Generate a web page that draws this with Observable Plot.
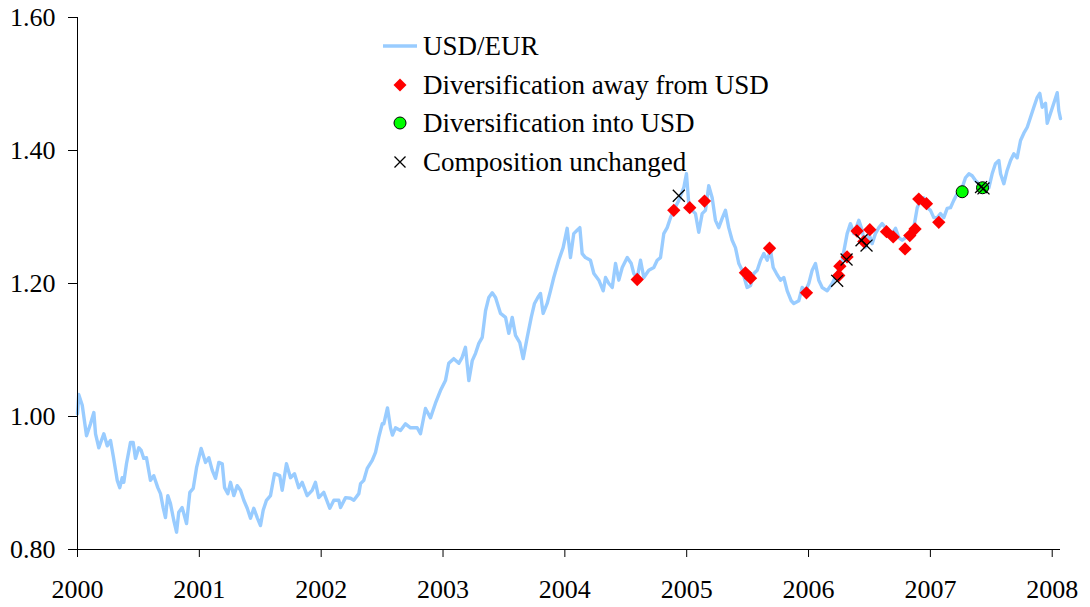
<!DOCTYPE html>
<html>
<head>
<meta charset="utf-8">
<script src="https://cdn.jsdelivr.net/npm/d3@7"></script>
<script src="https://cdn.jsdelivr.net/npm/@observablehq/plot@0.6"></script>
<style>
  html, body { margin: 0; padding: 0; background: #fff; }
  #wrap { position: relative; width: 1090px; height: 607px; font-family: "Liberation Serif", "Times New Roman", serif; }
  #legend { position: absolute; left: 380px; top: 27px; font-size: 27px; color: #000; line-height: 38.5px; }
  #legend .row { display: flex; align-items: center; height: 38.5px; }
  #legend svg { width: 40px; height: 20px; margin-right: 3px; overflow: visible; }
</style>
</head>
<body>
<div id="wrap"></div>
<script>
// ---- Data ----
const years = [
  2000.000,2000.010,2000.039,2000.074,2000.107,2000.134,2000.148,2000.175,2000.216,2000.244,
  2000.271,2000.293,2000.326,2000.347,2000.367,2000.380,2000.402,2000.435,2000.457,2000.476,
  2000.503,2000.523,2000.544,2000.566,2000.599,2000.626,2000.659,2000.681,2000.703,2000.722,
  2000.741,2000.763,2000.790,2000.813,2000.831,2000.859,2000.895,2000.922,2000.950,2000.977,
  2001.015,2001.051,2001.078,2001.106,2001.133,2001.160,2001.188,2001.207,2001.234,2001.256,
  2001.283,2001.311,2001.338,2001.365,2001.393,2001.420,2001.447,2001.475,2001.502,2001.524,
  2001.551,2001.584,2001.617,2001.660,2001.680,2001.715,2001.748,2001.781,2001.816,2001.844,
  2001.885,2001.926,2001.953,2001.980,2002.021,2002.071,2002.104,2002.145,2002.159,2002.200,
  2002.241,2002.268,2002.309,2002.323,2002.350,2002.378,2002.419,2002.446,2002.473,2002.501,
  2002.514,2002.544,2002.569,2002.585,2002.610,2002.651,2002.692,2002.733,2002.788,2002.815,
  2002.856,2002.897,2002.938,2002.979,2003.020,2003.047,2003.088,2003.130,2003.157,2003.184,
  2003.212,2003.240,2003.267,2003.294,2003.322,2003.349,2003.376,2003.404,2003.431,2003.472,
  2003.513,2003.540,2003.568,2003.595,2003.630,2003.658,2003.691,2003.724,2003.751,2003.778,
  2003.800,2003.822,2003.855,2003.882,2003.909,2003.950,2003.986,2004.019,2004.046,2004.073,
  2004.101,2004.123,2004.142,2004.169,2004.210,2004.238,2004.279,2004.315,2004.334,2004.361,
  2004.389,2004.416,2004.443,2004.471,2004.512,2004.545,2004.566,2004.594,2004.621,2004.648,
  2004.689,2004.730,2004.758,2004.785,2004.812,2004.840,2004.867,2004.894,2004.935,2004.976,
  2004.998,2005.017,2005.045,2005.072,2005.099,2005.127,2005.154,2005.181,2005.209,2005.236,
  2005.263,2005.291,2005.318,2005.345,2005.373,2005.400,2005.428,2005.455,2005.496,2005.524,
  2005.551,2005.579,2005.606,2005.633,2005.661,2005.688,2005.710,2005.737,2005.770,2005.797,
  2005.825,2005.858,2005.879,2005.920,2005.948,2005.975,2006.002,2006.030,2006.057,2006.084,
  2006.112,2006.153,2006.194,2006.235,2006.276,2006.317,2006.344,2006.372,2006.413,2006.440,
  2006.467,2006.495,2006.522,2006.549,2006.577,2006.604,2006.631,2006.659,2006.686,2006.714,
  2006.741,2006.769,2006.796,2006.837,2006.864,2006.892,2006.919,2006.946,2006.974,2007.001,
  2007.028,2007.056,2007.083,2007.110,2007.138,2007.165,2007.192,2007.220,2007.261,2007.288,
  2007.316,2007.343,2007.370,2007.398,2007.425,2007.452,2007.480,2007.507,2007.534,2007.562,
  2007.576,2007.603,2007.630,2007.658,2007.685,2007.712,2007.740,2007.767,2007.795,2007.822,
  2007.849,2007.877,2007.898,2007.918,2007.945,2007.959,2007.986,2008.013,2008.041,2008.054,
  2008.068
];
const usdEur = [
  1.004,1.033,1.017,0.971,0.989,1.006,0.974,0.953,0.974,0.956,
  0.964,0.941,0.904,0.893,0.908,0.901,0.929,0.961,0.961,0.937,
  0.953,0.949,0.937,0.938,0.904,0.911,0.893,0.884,0.863,0.848,
  0.881,0.869,0.844,0.826,0.856,0.863,0.839,0.886,0.892,0.923,
  0.952,0.931,0.938,0.919,0.907,0.931,0.929,0.893,0.884,0.901,
  0.881,0.896,0.889,0.874,0.862,0.847,0.862,0.848,0.836,0.859,
  0.874,0.881,0.914,0.911,0.889,0.929,0.908,0.914,0.893,0.901,
  0.881,0.889,0.901,0.878,0.886,0.862,0.874,0.874,0.863,0.878,
  0.877,0.874,0.884,0.899,0.904,0.922,0.934,0.946,0.969,0.989,
  0.989,1.013,0.983,0.972,0.983,0.979,0.989,0.983,0.983,0.974,
  1.012,0.998,1.020,1.039,1.054,1.080,1.087,1.080,1.089,1.104,
  1.054,1.084,1.095,1.110,1.119,1.159,1.179,1.186,1.179,1.155,
  1.149,1.125,1.149,1.122,1.111,1.087,1.119,1.149,1.170,1.179,
  1.185,1.155,1.170,1.189,1.209,1.235,1.254,1.283,1.239,1.275,
  1.280,1.284,1.245,1.239,1.235,1.215,1.205,1.189,1.209,1.200,
  1.194,1.230,1.205,1.224,1.239,1.230,1.215,1.209,1.235,1.209,
  1.220,1.224,1.235,1.239,1.275,1.284,1.299,1.310,1.325,1.344,
  1.365,1.320,1.310,1.305,1.277,1.305,1.310,1.347,1.329,1.295,
  1.284,1.298,1.310,1.284,1.265,1.254,1.230,1.220,1.194,1.197,
  1.215,1.220,1.235,1.245,1.235,1.250,1.224,1.215,1.205,1.209,
  1.189,1.174,1.170,1.174,1.194,1.189,1.200,1.220,1.230,1.205,
  1.194,1.189,1.200,1.215,1.235,1.275,1.290,1.275,1.295,1.280,
  1.254,1.275,1.260,1.275,1.284,1.290,1.284,1.280,1.275,1.283,
  1.269,1.265,1.269,1.272,1.284,1.314,1.325,1.329,1.314,1.310,
  1.299,1.299,1.305,1.299,1.313,1.314,1.325,1.335,1.344,1.359,
  1.365,1.362,1.355,1.350,1.340,1.340,1.344,1.365,1.380,1.385,
  1.365,1.350,1.370,1.385,1.395,1.389,1.415,1.426,1.435,1.450,
  1.465,1.480,1.486,1.465,1.471,1.441,1.456,1.471,1.487,1.460,
  1.448
];
const awayYears  = [2004.594,2004.894,2005.025,2005.146,2005.482,2005.524,2005.680,2005.983,2006.248,2006.257,2006.316,2006.398,2006.454,2006.503,2006.640,2006.695,2006.792,2006.831,2006.874,2006.905,2006.968,2007.069];
const awayValues = [1.206,1.310,1.314,1.324,1.216,1.208,1.253,1.186,1.212,1.226,1.240,1.279,1.263,1.281,1.278,1.270,1.252,1.272,1.282,1.327,1.320,1.292];
const intoYears  = [2007.261,2007.428];
const intoValues = [1.338,1.344];
const unchYears  = [2004.935,2006.235,2006.312,2006.435,2006.476,2007.416,2007.436];
const unchValues = [1.332,1.204,1.236,1.265,1.257,1.345,1.343];
const yearTicks = [2000,2001,2002,2003,2004,2005,2006,2007,2008];
const rateTicks = [0.8,1.0,1.2,1.4,1.6];
const seriesLabels = ["USD/EUR","Diversification away from USD","Diversification into USD","Composition unchanged"];

// ---- Tables ----
const line = years.map((t, i) => ({t, v: usdEur[i]}));
const away = awayYears.map((t, i) => ({t, v: awayValues[i]}));
const into = intoYears.map((t, i) => ({t, v: intoValues[i]}));
const unch = unchYears.map((t, i) => ({t, v: unchValues[i]}));

const chart = Plot.plot({
  width: 1090,
  height: 607,
  marginLeft: 77,
  marginRight: 30,
  marginTop: 17,
  marginBottom: 58,
  style: {fontFamily: "'Liberation Serif', 'Times New Roman', serif", fontSize: "26px", color: "#000", background: "#fff", overflow: "visible"},
  x: {domain: [2000, 2008.068], ticks: yearTicks, tickFormat: d3.format("d"), tickSize: 8, tickPadding: 22, label: null},
  y: {domain: [0.8, 1.6], ticks: rateTicks, tickFormat: d3.format(".2f"), tickSize: 9, tickPadding: 13, label: null},
  marks: [
    Plot.line(line, {x: "t", y: "v", stroke: "#99ccff", strokeWidth: 3.4, curve: "linear"}),
    Plot.ruleX([2000], {stroke: "#000", strokeWidth: 1}),
    Plot.ruleY([0.8], {stroke: "#000", strokeWidth: 1}),
    Plot.dot(away, {x: "t", y: "v", symbol: "diamond2", fill: "#ff0000", r: 6}),
    Plot.dot(into, {x: "t", y: "v", symbol: "circle", fill: "#00ff00", stroke: "#000", strokeWidth: 1, r: 6}),
    Plot.dot(unch, {x: "t", y: "v", symbol: "times", stroke: "#000", strokeWidth: 1.3, r: 5.5})
  ]
});

const wrap = document.getElementById("wrap");
wrap.appendChild(chart);

// ---- Legend (HTML overlay in the upper part of the chart) ----
const legend = document.createElement("div");
legend.id = "legend";
const swatches = [
  '<svg viewBox="-20 -10 40 20"><line x1="-17" x2="17" y1="0" y2="0" stroke="#99ccff" stroke-width="3.4"/></svg>',
  '<svg viewBox="-20 -10 40 20"><path d="M0,-6.5L6.5,0L0,6.5L-6.5,0Z" fill="#ff0000"/></svg>',
  '<svg viewBox="-20 -10 40 20"><circle r="6" fill="#00ff00" stroke="#000" stroke-width="1"/></svg>',
  '<svg viewBox="-20 -10 40 20"><path d="M-5.5,-5.5L5.5,5.5M-5.5,5.5L5.5,-5.5" stroke="#000" stroke-width="1.3"/></svg>'
];
legend.innerHTML = seriesLabels.map((s, i) => `<div class="row">${swatches[i]}<span>${s}</span></div>`).join("");
wrap.appendChild(legend);
</script>
</body>
</html>
